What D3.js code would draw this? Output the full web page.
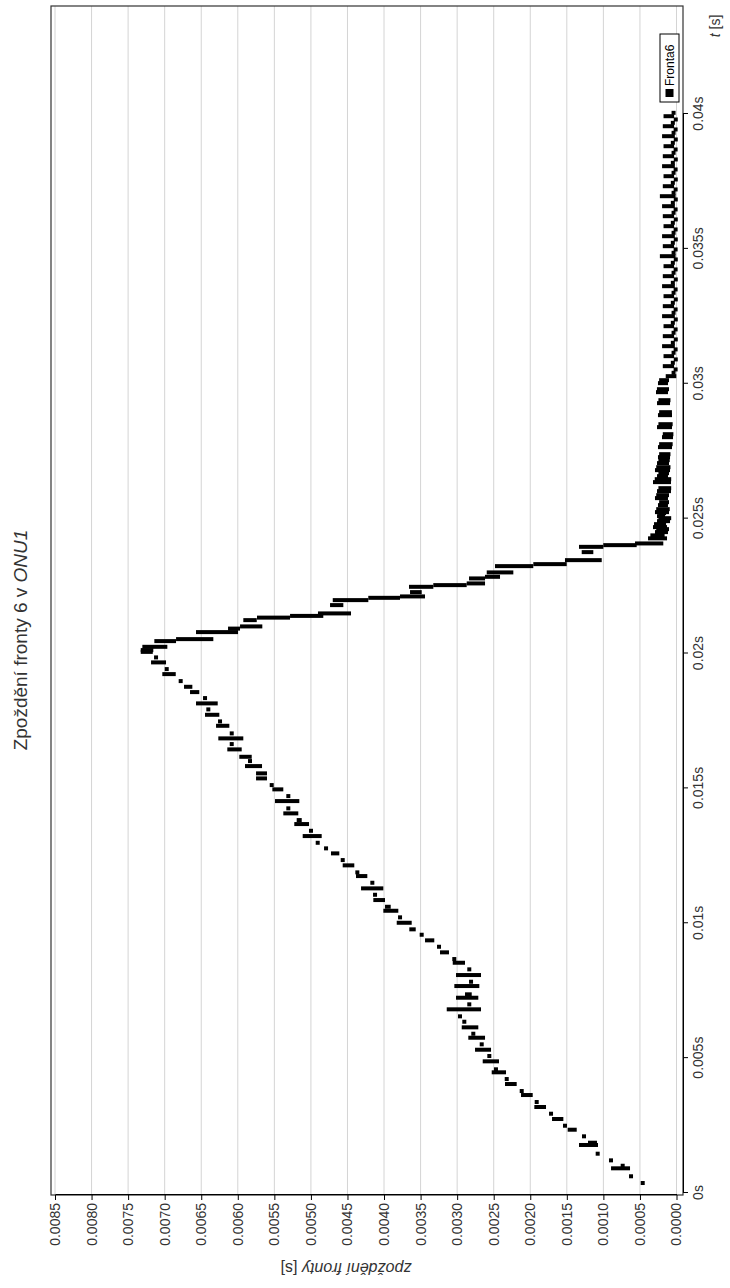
<!DOCTYPE html>
<html><head><meta charset="utf-8">
<script src="https://cdnjs.cloudflare.com/ajax/libs/d3/7.8.5/d3.min.js"></script>
<style>body{margin:0;background:#fff}svg{display:block}text{font-family:"Liberation Sans",Arial,sans-serif}</style>
</head><body><svg id="c" width="730" height="1288"></svg>
<script>
const title = "Zpoždění fronty 6 v ";
const titleItalic = "ONU1";
const seriesName = "Fronta6";
const timeTicks = [0,0.005,0.01,0.015,0.02,0.025,0.03,0.035,0.04];
const timeTickLabels = ["0s","0.005s","0.01s","0.015s","0.02s","0.025s","0.03s","0.035s","0.04s"];
const valueTicks = [0,0.0005,0.001,0.0015,0.002,0.0025,0.003,0.0035,0.004,0.0045,0.005,0.0055,0.006,0.0065,0.007,0.0075,0.008,0.0085];
// departure time [s]
const markT = [
0.00037,0.00062,0.000915,0.00101,0.00121,0.001457,0.00178,0.001864,0.002101,0.002346,0.002494,0.002743,0.002939,0.003188,0.003373,0.003632,0.00378,0.00404,0.004225,0.004474,0.004585,0.004881,0.005078,0.005311,0.005511,0.005756,0.005904,0.006141,0.006349,0.006549,0.006809,0.006994,0.007239,0.007365,0.007672,0.007832,0.00808,0.008291,0.008536,0.008673,0.008921,0.009129,0.009366,0.009574,0.009774,0.010018,0.010219,0.010463,0.010611,0.01086,0.011056,0.011293,0.011501,0.011749,0.011886,0.012146,0.012342,0.01259,0.012776,0.012983,0.013232,0.013428,0.013677,0.013825,0.014073,0.014259,0.014529,0.014714,0.014963,0.015122,0.01537,0.015556,0.015826,0.016012,0.016171,0.016445,0.016642,0.016853,0.017038,0.01732,0.017483,0.017728,0.017928,0.01815,0.018347,0.018569,0.018766,0.018977,0.019236,0.019422,0.01967,0.019855,0.02006,0.020126,0.020248,
0.020459,0.020533,0.020793,0.020923,0.021004,0.021237,0.02133,0.021394,0.021486,0.021794,0.021979,0.022064,0.022116,0.022275,0.022472,0.022535,0.022598,0.022783,0.022843,0.023006,0.023239,0.023313,0.023461,0.023758,0.023954,0.024017,0.02408,
0.024269,0.0245,0.024685,0.024907,0.025092,0.025241,0.0255,0.02576,0.026019,0.026353,0.026575,0.026797,0.027057,0.027279,0.02765,0.02802,0.028391,0.028836,0.029281,0.029688,0.030022,
0.024379,0.02461,0.024795,0.025017,0.025202,0.025351,0.02561,0.02587,0.026129,0.026463,0.026685,0.026907,0.027167,0.027389,0.02776,0.02813,0.028501,0.028946,0.029391,0.029798,0.030132,
0.030281,0.030652,0.031023,0.031393,0.031764,0.032134,0.032505,0.032876,0.033246,0.033617,0.033988,0.034358,0.034729,0.0351,0.03547,0.035841,0.036212,0.036582,0.036953,0.037323,0.037694,0.038065,0.038435,0.038806,0.039177,0.039547,0.039918,
0.030406,0.030777,0.031148,0.031518,0.031889,0.032259,0.03263,0.033001,0.033371,0.033742,0.034113,0.034483,0.034854,0.035225,0.035595,0.035966,0.036337,0.036707,0.037078,0.037448,0.037819,0.03819,0.03856,0.038931,0.039302,0.039672,0.040043,
0.030531,0.030902,0.031273,0.031643,0.032014,0.032384,0.032755,0.033126,0.033496,0.033867,0.034238,0.034608,0.034979,0.03535,0.03572,0.036091,0.036462,0.036832,0.037203,0.037573,0.037944,0.038315,0.038685,0.039056,0.039427,0.039797];
// highest queue delay at that time [s]
const markHi = [
0.000462,0.000622,0.000868,0.000736,0.000896,0.001078,0.001306,0.001183,0.001265,0.001461,0.001525,0.001675,0.001716,0.001917,0.001912,0.002099,0.002117,0.002318,0.002322,0.0025,0.002469,0.002623,0.00256,0.002728,0.002664,0.00282,0.002779,0.00291,0.002902,0.002961,0.003115,0.002834,0.002988,0.002865,0.003011,0.00281,0.002988,0.002834,0.003033,0.003039,0.003207,0.003248,0.003412,0.003485,0.003627,0.003799,0.003781,0.003982,0.003959,0.004119,0.004123,0.004287,0.00416,0.004356,0.004365,0.004538,0.004565,0.004698,0.004793,0.004907,0.005085,0.004999,0.0052,0.005167,0.00535,0.005309,0.005464,0.005309,0.0055,0.005536,0.005723,0.005723,0.005874,0.005833,0.005952,0.006116,0.006083,0.006239,0.006083,0.00627,0.006243,0.006421,0.006403,0.006544,0.006448,0.006626,0.006708,0.006781,0.007005,0.006972,0.007159,0.007118,0.0073,0.0073,0.007278,
0.007114,0.006817,0.006544,0.006106,0.005942,0.005897,0.00571,0.005258,0.004876,0.004711,0.004674,0.004188,0.003754,0.003617,0.003631,0.003299,0.002842,0.00281,0.002592,0.002568,0.002455,0.001931,0.001498,0.001269,0.001306,0.000974,0.00054,
0.000362,0.000267,0.000294,0.000239,0.000239,0.000267,0.000226,0.000267,0.000239,0.000294,0.000239,0.000267,0.000239,0.000226,0.000226,0.000171,0.000239,0.000226,0.000239,0.000253,0.000226,
0.00033,0.00025,0.00028,0.00022,0.00022,0.00025,0.00021,0.00025,0.00022,0.00027,0.00022,0.00025,0.00022,0.00021,0.00021,0.00016,0.00022,0.00021,0.00022,0.00024,0.00021,
0.00012,0.00016,0.00015,0.00017,0.00016,0.00015,0.00017,0.00016,0.00015,0.00017,0.00016,0.00015,0.0002,0.00016,0.00017,0.00015,0.00016,0.00017,0.0002,0.00016,0.00015,0.00017,0.00016,0.00015,0.00017,0.00016,0.00015,
0.00004,0.00005,0.00004,0.00005,0.00004,0.00005,0.00004,0.00005,0.00004,0.00005,0.00004,0.00005,0.00004,0.00005,0.00004,0.00005,0.00004,0.00005,0.00004,0.00005,0.00004,0.00005,0.00004,0.00005,0.00004,0.00005,0.00004,
0.000012,0.00001,0.000012,0.00001,0.000012,0.00001,0.000012,0.00001,0.000012,0.00001,0.000012,0.00001,0.000012,0.00001,0.000012,0.00001,0.000012,0.00001,0.000012,0.00001,0.000012,0.00001,0.000012,0.00001,0.000012,0.00001];
// lowest queue delay at that time [s]
const markLo = [
0.000462,0.000622,0.000663,0.000736,0.000896,0.001078,0.001101,0.001115,0.001265,0.001392,0.001525,0.001575,0.001716,0.001812,0.001912,0.001994,0.002117,0.002213,0.002322,0.002359,0.002469,0.002455,0.00256,0.002564,0.002664,0.002646,0.002779,0.002738,0.002902,0.002961,0.002701,0.002834,0.002738,0.002828,0.002724,0.00281,0.002701,0.002834,0.00292,0.003039,0.003139,0.003248,0.00334,0.003485,0.003594,0.003649,0.003781,0.003832,0.003936,0.004014,0.004123,0.004037,0.00416,0.004256,0.004365,0.004434,0.004565,0.004639,0.004793,0.004907,0.00488,0.004999,0.005053,0.005153,0.0052,0.005309,0.005186,0.005309,0.005405,0.005536,0.005628,0.005628,0.005696,0.005833,0.005837,0.005974,0.006083,0.005952,0.006083,0.006143,0.006243,0.00628,0.006403,0.006302,0.006448,0.006554,0.006649,0.006781,0.006876,0.006972,0.007009,0.007118,0.00719,0.007183,0.006991,
0.006872,0.006362,0.006024,0.005997,0.005692,0.005768,0.005313,0.004858,0.004479,0.004584,0.004242,0.003809,0.003467,0.003512,0.003353,0.002897,0.002646,0.002646,0.002441,0.002259,0.001986,0.001529,0.00105,0.001165,0.001028,0.000572,0.000208,
0.000157,0.000144,0.000157,0.000116,0.000185,0.00013,0.000144,0.000144,0.000103,0.000103,0.000144,0.000116,0.00013,0.000116,0.000089,0.000075,0.000089,0.000089,0.000116,0.000144,0.000144,
0.00019,0.00013,0.00017,0.0001,0.00017,0.00012,0.00013,0.00013,0.0001,0.0001,0.00013,0.00011,0.00012,0.00011,0.00008,0.00007,0.00008,0.00009,0.00011,0.00013,0.00013,
0.00003,0.00006,0.00006,0.00005,0.00006,0.00006,0.00005,0.00006,0.00006,0.00005,0.00006,0.00006,0.00004,0.00006,0.00005,0.00006,0.00006,0.00005,0.00004,0.00006,0.00006,0.00005,0.00006,0.00006,0.00005,0.00006,0.00006,
0.00004,0.00005,0.00004,0.00005,0.00004,0.00005,0.00004,0.00005,0.00004,0.00005,0.00004,0.00005,0.00004,0.00005,0.00004,0.00005,0.00004,0.00005,0.00004,0.00005,0.00004,0.00005,0.00004,0.00005,0.00004,0.00005,0.00004,
0.000012,0.00001,0.000012,0.00001,0.000012,0.00001,0.000012,0.00001,0.000012,0.00001,0.000012,0.00001,0.000012,0.00001,0.000012,0.00001,0.000012,0.00001,0.000012,0.00001,0.000012,0.00001,0.000012,0.00001,0.000012,0.00001];

const svg = d3.select("#c");
svg.append("rect").attr("width",730).attr("height",1288).attr("fill","#fff");
// the chart is laid out landscape (1288 x 730) and turned a quarter turn
const g = svg.append("g").attr("transform","translate(0,1288) rotate(-90)");
const L = 93, R = 1282, T = 51, B = 683;
const x = d3.scaleLinear().domain([0,0.04]).range([95,1174]);
const y = d3.scaleLinear().domain([0,0.0085]).range([676.5,55]);

// gridlines
g.append("g").selectAll("line").data(valueTicks).join("line")
  .attr("x1",L).attr("x2",R).attr("y1",d=>y(d)).attr("y2",d=>y(d))
  .attr("stroke","#d4d4d4").attr("stroke-width",1);

// marks
const marks = markT.map((t,i)=>({t,hi:markHi[i],lo:markLo[i]}));
g.append("g").selectAll("rect").data(marks).join("rect")
  .attr("x",d=>x(d.t)-2).attr("width",4)
  .attr("y",d=>y(d.hi)-2).attr("height",d=>y(d.lo)-y(d.hi)+4)
  .attr("fill","#000");

// frame
g.append("rect").attr("x",L).attr("y",T).attr("width",R-L).attr("height",B-T)
  .attr("fill","none").attr("stroke","#333").attr("stroke-width",1.2);

// axes
const xAxis = g.append("g").attr("transform",`translate(0,${B})`)
  .call(d3.axisBottom(x).tickValues(timeTicks).tickSize(5).tickSizeOuter(0)
    .tickFormat((d,i)=>timeTickLabels[i]));
xAxis.select(".domain").attr("stroke","#000");
xAxis.selectAll("text").attr("font-size",14).attr("fill","#333").attr("dy","0.85em");

const yAxis = g.append("g").attr("transform",`translate(${L},0)`)
  .call(d3.axisLeft(y).tickValues(valueTicks).tickSize(5).tickSizeOuter(0)
    .tickFormat(d3.format(".4f")));
yAxis.select(".domain").attr("stroke","#000");
yAxis.selectAll("text").attr("font-size",14).attr("fill","#333");

// title
const tt = g.append("text").attr("x",648).attr("y",27).attr("text-anchor","middle")
  .attr("font-size",19).attr("fill","#333");
tt.append("tspan").text(title);
tt.append("tspan").attr("font-style","italic").text(titleItalic);

// value axis title
const yt = g.append("text").attr("transform","translate(25,346) rotate(-90)")
  .attr("text-anchor","middle").attr("font-size",16).attr("fill","#333");
yt.append("tspan").attr("font-style","italic").text("zpoždění fronty");
yt.append("tspan").text(" [s]");

// time axis title
const xt = g.append("text").attr("x",1262).attr("y",720).attr("text-anchor","middle")
  .attr("font-size",14).attr("fill","#333");
xt.append("tspan").attr("font-style","italic").text("t");
xt.append("tspan").text(" [s]");

// legend
const lg = g.append("g").attr("transform","translate(1186,660)");
lg.append("rect").attr("width",68).attr("height",19).attr("fill","#fff").attr("stroke","#000");
lg.append("rect").attr("x",5).attr("y",5.5).attr("width",8).attr("height",8).attr("fill","#000");
lg.append("text").attr("x",16).attr("y",14).attr("font-size",12).attr("fill","#000").text(seriesName);
</script></body></html>
